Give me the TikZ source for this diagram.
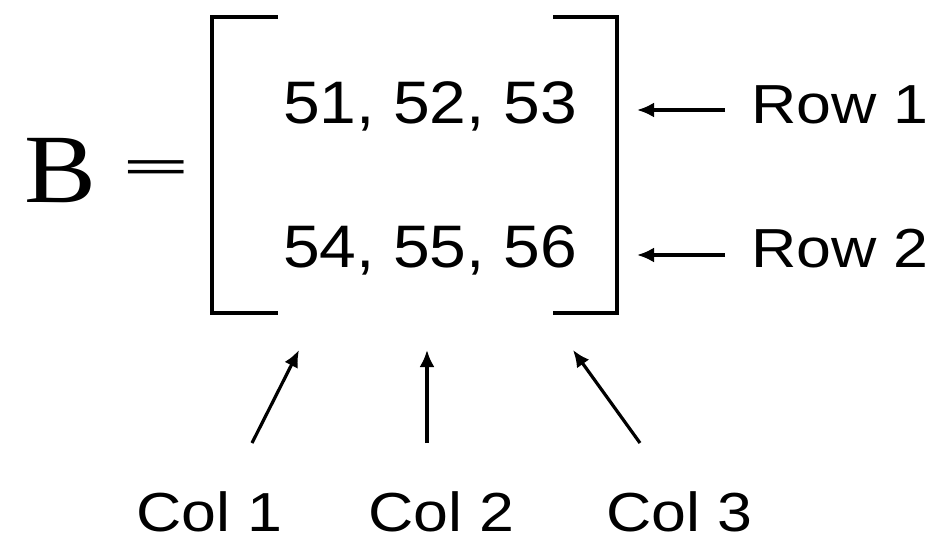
\documentclass[tikz,border=0pt]{standalone}
\usepackage{fontspec}
\setmainfont{Liberation Sans}
\newfontfamily\serifB{Liberation Serif}
\usetikzlibrary{arrows.meta}
\tikzset{
  lbl/.style={inner sep=0pt, anchor=base west, text depth=0pt},
  bracketline/.style={line width=3.2pt, line cap=rect},
  ptr/.style={line width=3.2pt, -{Latex[length=17pt,width=15pt]}},
}
\newcommand{\numtxt}[1]{\fontsize{60}{72}\selectfont\scalebox{1.1}[1]{#1}}
\newcommand{\labtxt}[1]{\fontsize{55}{66}\selectfont\scalebox{1.14}[1]{#1}}
\begin{document}
\begin{tikzpicture}[x=1pt,y=-1pt]
\useasboundingbox (0,0) rectangle (946,541);
% left side
\node[lbl] (B) at (24,202) {\serifB\fontsize{98}{110}\selectfont\scalebox{1.1}[1]{B}};
\node[lbl] (eq) at (122,183) {\serifB\bfseries\fontsize{98}{110}\selectfont\scalebox{1.22}[0.5]{=}};
% brackets
\draw[bracketline] (276,17) -- (212,17) -- (212,313) -- (276,313);
\draw[bracketline] (555,17) -- (617,17) -- (617,313) -- (555,313);
% entries
\node[lbl] (r1) at (283,123) {\numtxt{51, 52, 53}};
\node[lbl] (r2) at (283,267) {\numtxt{54, 55, 56}};
% row labels
\node[lbl] (row1) at (751,123) {\labtxt{Row 1}};
\node[lbl] (row2) at (751,267) {\labtxt{Row 2}};
\coordinate (a1s) at (725,110);
\coordinate (a1e) at (637,110);
\coordinate (a2s) at (725,255);
\coordinate (a2e) at (637,255);
\draw[ptr] (a1s) -- (a1e);
\draw[ptr] (a2s) -- (a2e);
% column labels
\node[lbl] (c1) at (136,531) {\labtxt{Col 1}};
\node[lbl] (c2) at (368,531) {\labtxt{Col 2}};
\node[lbl] (c3) at (606,531) {\labtxt{Col 3}};
\coordinate (k1s) at (252,443);
\coordinate (k1e) at (299,350);
\coordinate (k2s) at (427,443);
\coordinate (k2e) at (427,350);
\coordinate (k3s) at (640,443);
\coordinate (k3e) at (573,350);
\draw[ptr] (k1s) -- (k1e);
\draw[ptr] (k2s) -- (k2e);
\draw[ptr] (k3s) -- (k3e);
\end{tikzpicture}
\end{document}
